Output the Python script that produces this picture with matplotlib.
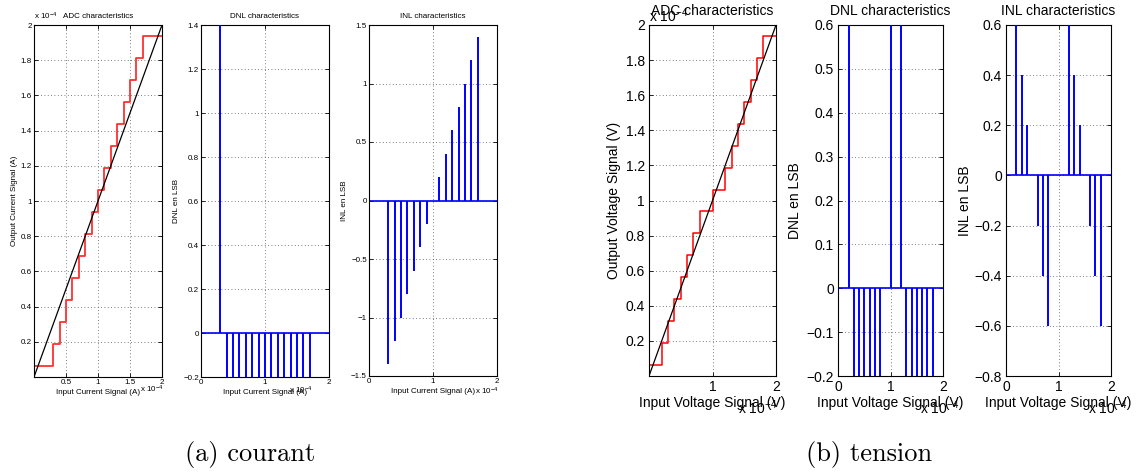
"""
Caractéristiques ADC / DNL / INL — (a) courant, (b) tension.
"""
import matplotlib.pyplot as plt

W, H = 1138, 475

# ---- (a) courant, abscisses et ordonnées en unités de 1e-4 A
adc_a_edges  = [0, 0.3, 0.4, 0.5, 0.6, 0.7, 0.8, 0.9, 1.0, 1.1, 1.2, 1.3, 1.4, 1.5, 1.6, 1.7, 2.0]
adc_a_levels = [0.0625, 0.1875, 0.3125, 0.4375, 0.5625, 0.6875, 0.8125, 0.9375,
                1.0625, 1.1875, 1.3125, 1.4375, 1.5625, 1.6875, 1.8125, 1.9375]
dnl_a_x = [0.3, 0.4, 0.5, 0.6, 0.7, 0.8, 0.9, 1.0, 1.1, 1.2, 1.3, 1.4, 1.5, 1.6, 1.7]
dnl_a_y = [1.4, -0.2, -0.2, -0.2, -0.2, -0.2, -0.2, -0.2, -0.2, -0.2, -0.2, -0.2, -0.2, -0.2, -0.2]
inl_a_x = [0.3, 0.4, 0.5, 0.6, 0.7, 0.8, 0.9, 1.0, 1.1, 1.2, 1.3, 1.4, 1.5, 1.6, 1.7]
inl_a_y = [-1.4, -1.2, -1.0, -0.8, -0.6, -0.4, -0.2, 0.0, 0.2, 0.4, 0.6, 0.8, 1.0, 1.2, 1.4]

# ---- (b) tension
adc_b_edges  = [0, 0.2, 0.3, 0.4, 0.5, 0.6, 0.7, 0.8, 1.0, 1.2, 1.3, 1.4, 1.5, 1.6, 1.7, 1.8, 2.0]
adc_b_levels = [0.0625, 0.1875, 0.3125, 0.4375, 0.5625, 0.6875, 0.8125, 0.9375,
                1.0625, 1.1875, 1.3125, 1.4375, 1.5625, 1.6875, 1.8125, 1.9375]
dnl_b_x = [0.2, 0.3, 0.4, 0.5, 0.6, 0.7, 0.8, 1.0, 1.2, 1.3, 1.4, 1.5, 1.6, 1.7, 1.8]
dnl_b_y = [0.6, -0.2, -0.2, -0.2, -0.2, -0.2, -0.2, 0.6, 0.6, -0.2, -0.2, -0.2, -0.2, -0.2, -0.2]
inl_b_x = [0.2, 0.3, 0.4, 0.5, 0.6, 0.7, 0.8, 1.0, 1.2, 1.3, 1.4, 1.5, 1.6, 1.7, 1.8]
inl_b_y = [0.6, 0.4, 0.2, 0.0, -0.2, -0.4, -0.6, 0.0, 0.6, 0.4, 0.2, 0.0, -0.2, -0.4, -0.6]

ideal_x = [0, 2]
ideal_y = [0, 2]

plt.rcParams["font.family"] = ["Liberation Sans", "DejaVu Sans"]
plt.rcParams["mathtext.fontset"] = "custom"
plt.rcParams["mathtext.rm"] = "Liberation Sans"
plt.rcParams["mathtext.it"] = "Liberation Sans:italic"

fig = plt.figure(figsize=(W / 100, H / 100), dpi=100)
fig.patch.set_facecolor("white")


def fx(px):
    return px / W


def fy(py):
    return 1 - py / H


def add_ax(x0, x1, y0, y1):
    return fig.add_axes([fx(x0), fy(y1), (x1 - x0) / W, (y1 - y0) / H])


def style(ax, fs, pad):
    ax.tick_params(direction="in", top=True, right=True, length=3, width=0.6,
                   labelsize=fs, pad=pad, colors="black")
    for s in ax.spines.values():
        s.set_linewidth(0.8)
    ax.grid(True, linestyle=(0, (1, 3)), color="#555555", linewidth=0.6)
    ax.set_axisbelow(True)


def stems(ax, x, y):
    ax.axhline(0, color="#0000ff", lw=1.2, zorder=2)
    ax.vlines(x, 0, y, color="#0000ff", lw=1.4, zorder=3)


def minus(vals):
    return [f"{v:g}".replace("-", "\u2212") for v in vals]


def offset(px, py, fs):
    fig.text(fx(px), fy(py), r"x 10$^{-4}$", fontsize=fs, ha="left", va="center")


# ================= (a) courant =================
fa = 5.8
ax = add_ax(34, 162, 25, 377)
ax.step(adc_a_edges, adc_a_levels + [adc_a_levels[-1]], where="post", color="#ff3030", lw=1.3)
ax.plot(ideal_x, ideal_y, color="black", lw=0.9)
ax.set_xlim(0, 2); ax.set_ylim(0, 2)
ax.set_xticks([0.5, 1, 1.5, 2]); ax.set_xticklabels(minus([0.5, 1, 1.5, 2]))
yt = [0.2, 0.4, 0.6, 0.8, 1, 1.2, 1.4, 1.6, 1.8, 2]
ax.set_yticks(yt); ax.set_yticklabels(minus(yt))
style(ax, fa, 1.5)
ax.set_title("ADC characteristics", fontsize=fa, pad=5)
ax.set_xlabel("Input Current Signal (A)", fontsize=fa, labelpad=2)
ax.set_ylabel("Output Current Signal (A)", fontsize=fa, labelpad=2)
offset(34, 16, fa)
offset(140, 389, fa)

ax = add_ax(201, 329, 25, 377)
stems(ax, dnl_a_x, dnl_a_y)
ax.set_xlim(0, 2); ax.set_ylim(-0.2, 1.4)
ax.set_xticks([0, 1, 2])
yt = [-0.2, 0, 0.2, 0.4, 0.6, 0.8, 1, 1.2, 1.4]
ax.set_yticks(yt); ax.set_yticklabels(minus(yt))
style(ax, fa, 1.5)
ax.set_title("DNL characteristics", fontsize=fa, pad=5)
ax.set_xlabel("Input Current Signal (A)", fontsize=fa, labelpad=2)
ax.set_ylabel("DNL en LSB", fontsize=fa, labelpad=2)
offset(289, 390, fa)

ax = add_ax(369, 497, 25, 376)
stems(ax, inl_a_x, inl_a_y)
ax.set_xlim(0, 2); ax.set_ylim(-1.5, 1.5)
ax.set_xticks([0, 1, 2])
yt = [-1.5, -1, -0.5, 0, 0.5, 1, 1.5]
ax.set_yticks(yt); ax.set_yticklabels(minus(yt))
style(ax, fa, 1.5)
ax.set_title("INL characteristics", fontsize=fa, pad=5)
ax.set_xlabel("Input Current Signal (A)", fontsize=fa, labelpad=2)
ax.set_ylabel("INL en LSB", fontsize=fa, labelpad=2)
offset(475, 391, fa)

# ================= (b) tension =================
fb = 10
ax = add_ax(649, 776, 25, 376)
ax.step(adc_b_edges, adc_b_levels + [adc_b_levels[-1]], where="post", color="#ff0000", lw=1.1)
ax.plot(ideal_x, ideal_y, color="black", lw=0.9)
ax.set_xlim(0, 2); ax.set_ylim(0, 2)
ax.set_xticks([1, 2])
yt = [0.2, 0.4, 0.6, 0.8, 1, 1.2, 1.4, 1.6, 1.8, 2]
ax.set_yticks(yt); ax.set_yticklabels(minus(yt))
style(ax, fb, 3)
ax.set_title("ADC characteristics", fontsize=fb, pad=7)
ax.set_xlabel("Input Voltage Signal (V)", fontsize=fb, labelpad=1)
ax.set_ylabel("Output Voltage Signal (V)", fontsize=fb, labelpad=3)
offset(649, 16, fb)
offset(738, 408, fb)

ax = add_ax(838, 943, 25, 376)
stems(ax, dnl_b_x, dnl_b_y)
ax.set_xlim(0, 2); ax.set_ylim(-0.2, 0.6)
ax.set_xticks([0, 1, 2])
yt = [-0.2, -0.1, 0, 0.1, 0.2, 0.3, 0.4, 0.5, 0.6]
ax.set_yticks(yt); ax.set_yticklabels(minus(yt))
style(ax, fb, 3)
ax.set_title("DNL characteristics", fontsize=fb, pad=7)
ax.set_xlabel("Input Voltage Signal (V)", fontsize=fb, labelpad=1)
ax.set_ylabel("DNL en LSB", fontsize=fb, labelpad=3)
offset(920, 408, fb)

ax = add_ax(1006, 1111, 25, 376)
stems(ax, inl_b_x, inl_b_y)
ax.set_xlim(0, 2); ax.set_ylim(-0.8, 0.6)
ax.set_xticks([0, 1, 2])
yt = [-0.8, -0.6, -0.4, -0.2, 0, 0.2, 0.4, 0.6]
ax.set_yticks(yt); ax.set_yticklabels(minus(yt))
style(ax, fb, 3)
ax.set_title("INL characteristics", fontsize=fb, pad=7)
ax.set_xlabel("Input Voltage Signal (V)", fontsize=fb, labelpad=1)
ax.set_ylabel("INL en LSB", fontsize=fb, labelpad=2)
offset(1088, 408, fb)

# ---- légendes des sous-figures
fig.text(fx(250), fy(455), "(a) courant", fontname="cmr10", fontsize=19, ha="center", va="center")
fig.text(fx(869), fy(455), "(b) tension", fontname="cmr10", fontsize=19, ha="center", va="center")

fig.savefig("out.png", dpi=100, facecolor="white")
